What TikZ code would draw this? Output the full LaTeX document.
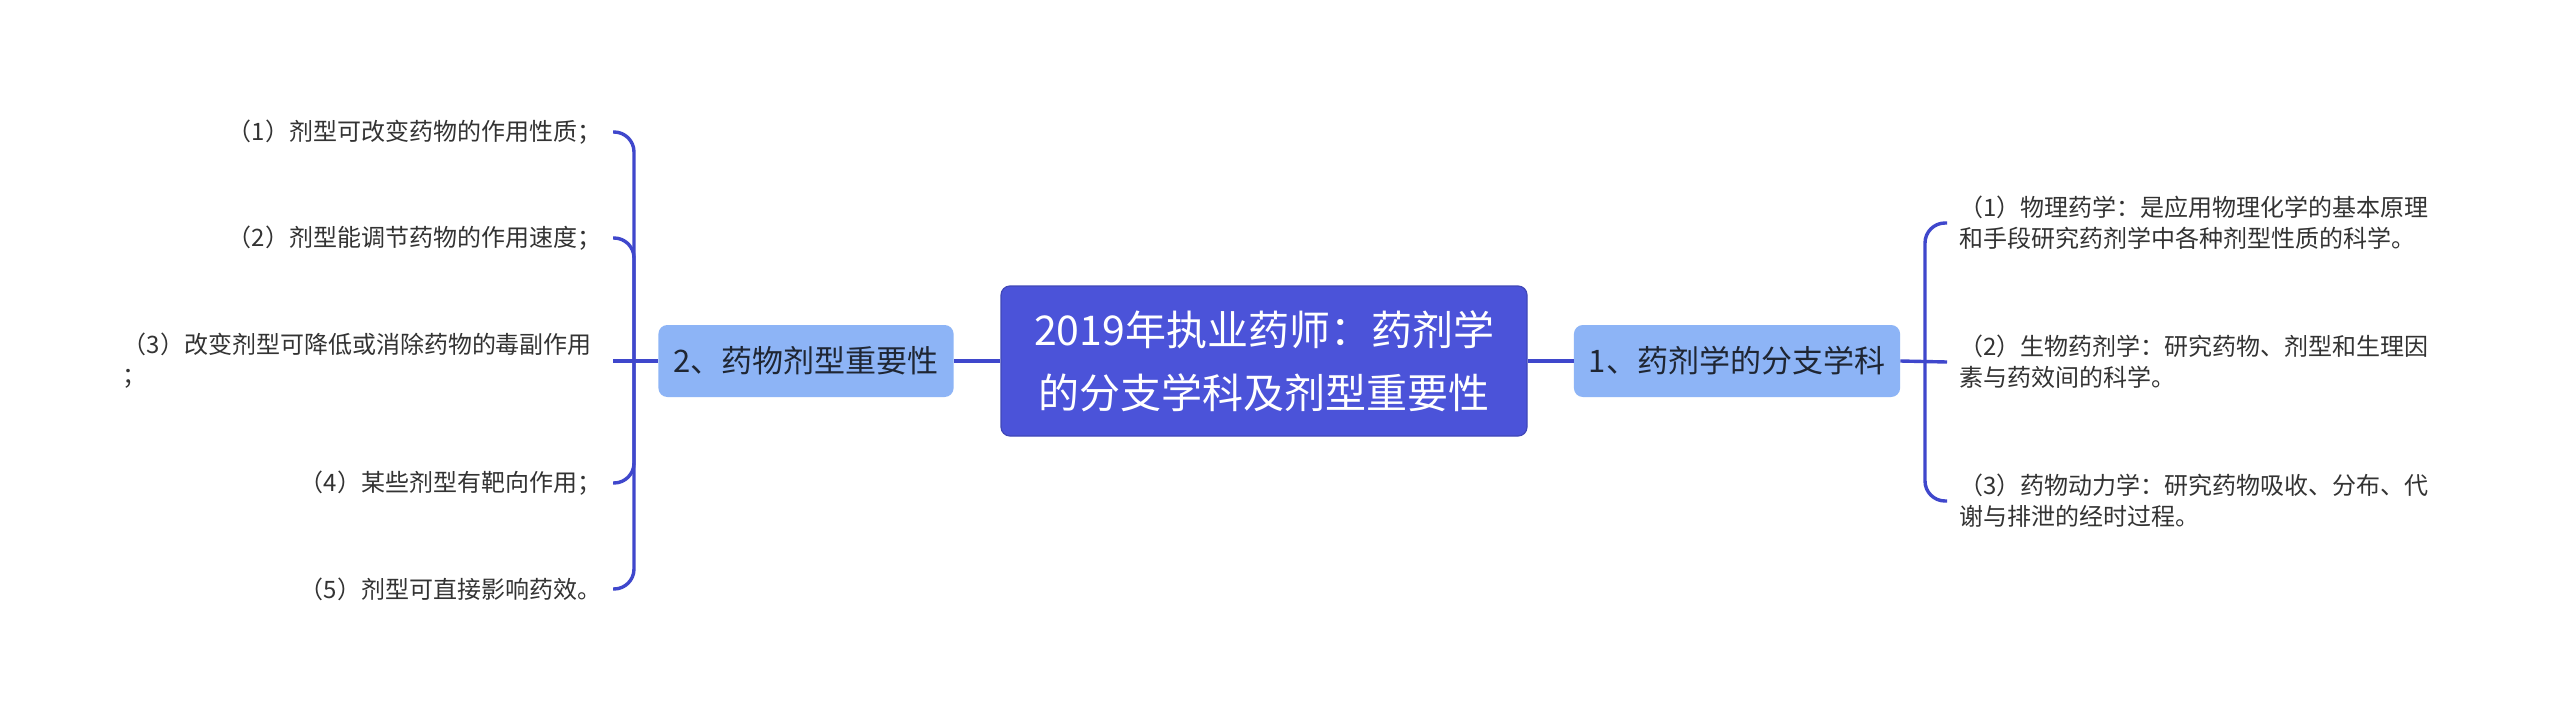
\documentclass[tikz,border=0pt]{standalone}
\usepackage{fontspec}
\setmainfont{Noto Sans CJK SC}
\usepackage{tikz}

\definecolor{rootblue}{HTML}{4B53D9}
\definecolor{linkblue}{HTML}{3F47CC}
\definecolor{subblue}{HTML}{8DB4F6}
\definecolor{subtext}{HTML}{1F2633}
\definecolor{leaftext}{HTML}{333333}

\begin{document}
\begin{tikzpicture}[x=1pt, y=-1pt,
  root/.style = {fill=rootblue, draw=rootblue!85!black, line width=1.2pt, rounded corners=9pt,
    text=white, align=center, minimum width=526pt, minimum height=150pt,
    font=\fontsize{41}{63}\selectfont},
  branch/.style = {fill=subblue, rounded corners=9pt, text=subtext, inner xsep=15pt,
    minimum height=72pt, font=\fontsize{31}{40}\selectfont},
  leaf/.style = {text=leaftext, align=left, inner sep=0pt, outer xsep=12pt,
    font=\fontsize{24}{31}\selectfont},
  link/.style = {draw=linkblue, line width=3.4pt, rounded corners=20pt}]

\fill[white] (0,0) rectangle (2560,723);
\useasboundingbox (0,0) rectangle (2560,723);

%% main nodes
\node[root] (root) at (1264, 361) {2019年执业药师：药剂学\\的分支学科及剂型重要性};
\node[branch] (lbranch) at (806, 361) {2、药物剂型重要性};
\node[branch] (rbranch) at (1737, 361) {1、药剂学的分支学科};

%% left leaves
\node[leaf, anchor=east] (l1) at (613, 132) {（1）剂型可改变药物的作用性质；};
\node[leaf, anchor=east] (l2) at (613, 238) {（2）剂型能调节药物的作用速度；};
\node[leaf, anchor=east, outer xsep=21pt] (l3) at (613, 361) {（3）改变剂型可降低或消除药物的毒副作用\\；};
\node[leaf, anchor=east] (l4) at (613, 483) {（4）某些剂型有靶向作用；};
\node[leaf, anchor=east] (l5) at (613, 589) {（5）剂型可直接影响药效。};

%% right leaves
\node[leaf, anchor=west] (r1) at (1947, 223) {（1）物理药学：是应用物理化学的基本原理\\和手段研究药剂学中各种剂型性质的科学。};
\node[leaf, anchor=west] (r2) at (1947, 362) {（2）生物药剂学：研究药物、剂型和生理因\\素与药效间的科学。};
\node[leaf, anchor=west] (r3) at (1947, 501) {（3）药物动力学：研究药物吸收、分布、代\\谢与排泄的经时过程。};

\coordinate (lfork) at (634, 361);
\coordinate (rfork) at (1925, 362);

%%% edges
\draw[link] (root) -- (lbranch);
\draw[link] (root) -- (rbranch);

\draw[link] (lbranch.west) -- (l3.east);
\foreach \n in {l1, l2, l4, l5}
  \draw[link] (lfork) |- (\n.east);

\draw[link] (rbranch.east) -- (r2.west);
\foreach \n in {r1, r3}
  \draw[link] (rfork) |- (\n.west);

\end{tikzpicture}
\end{document}
